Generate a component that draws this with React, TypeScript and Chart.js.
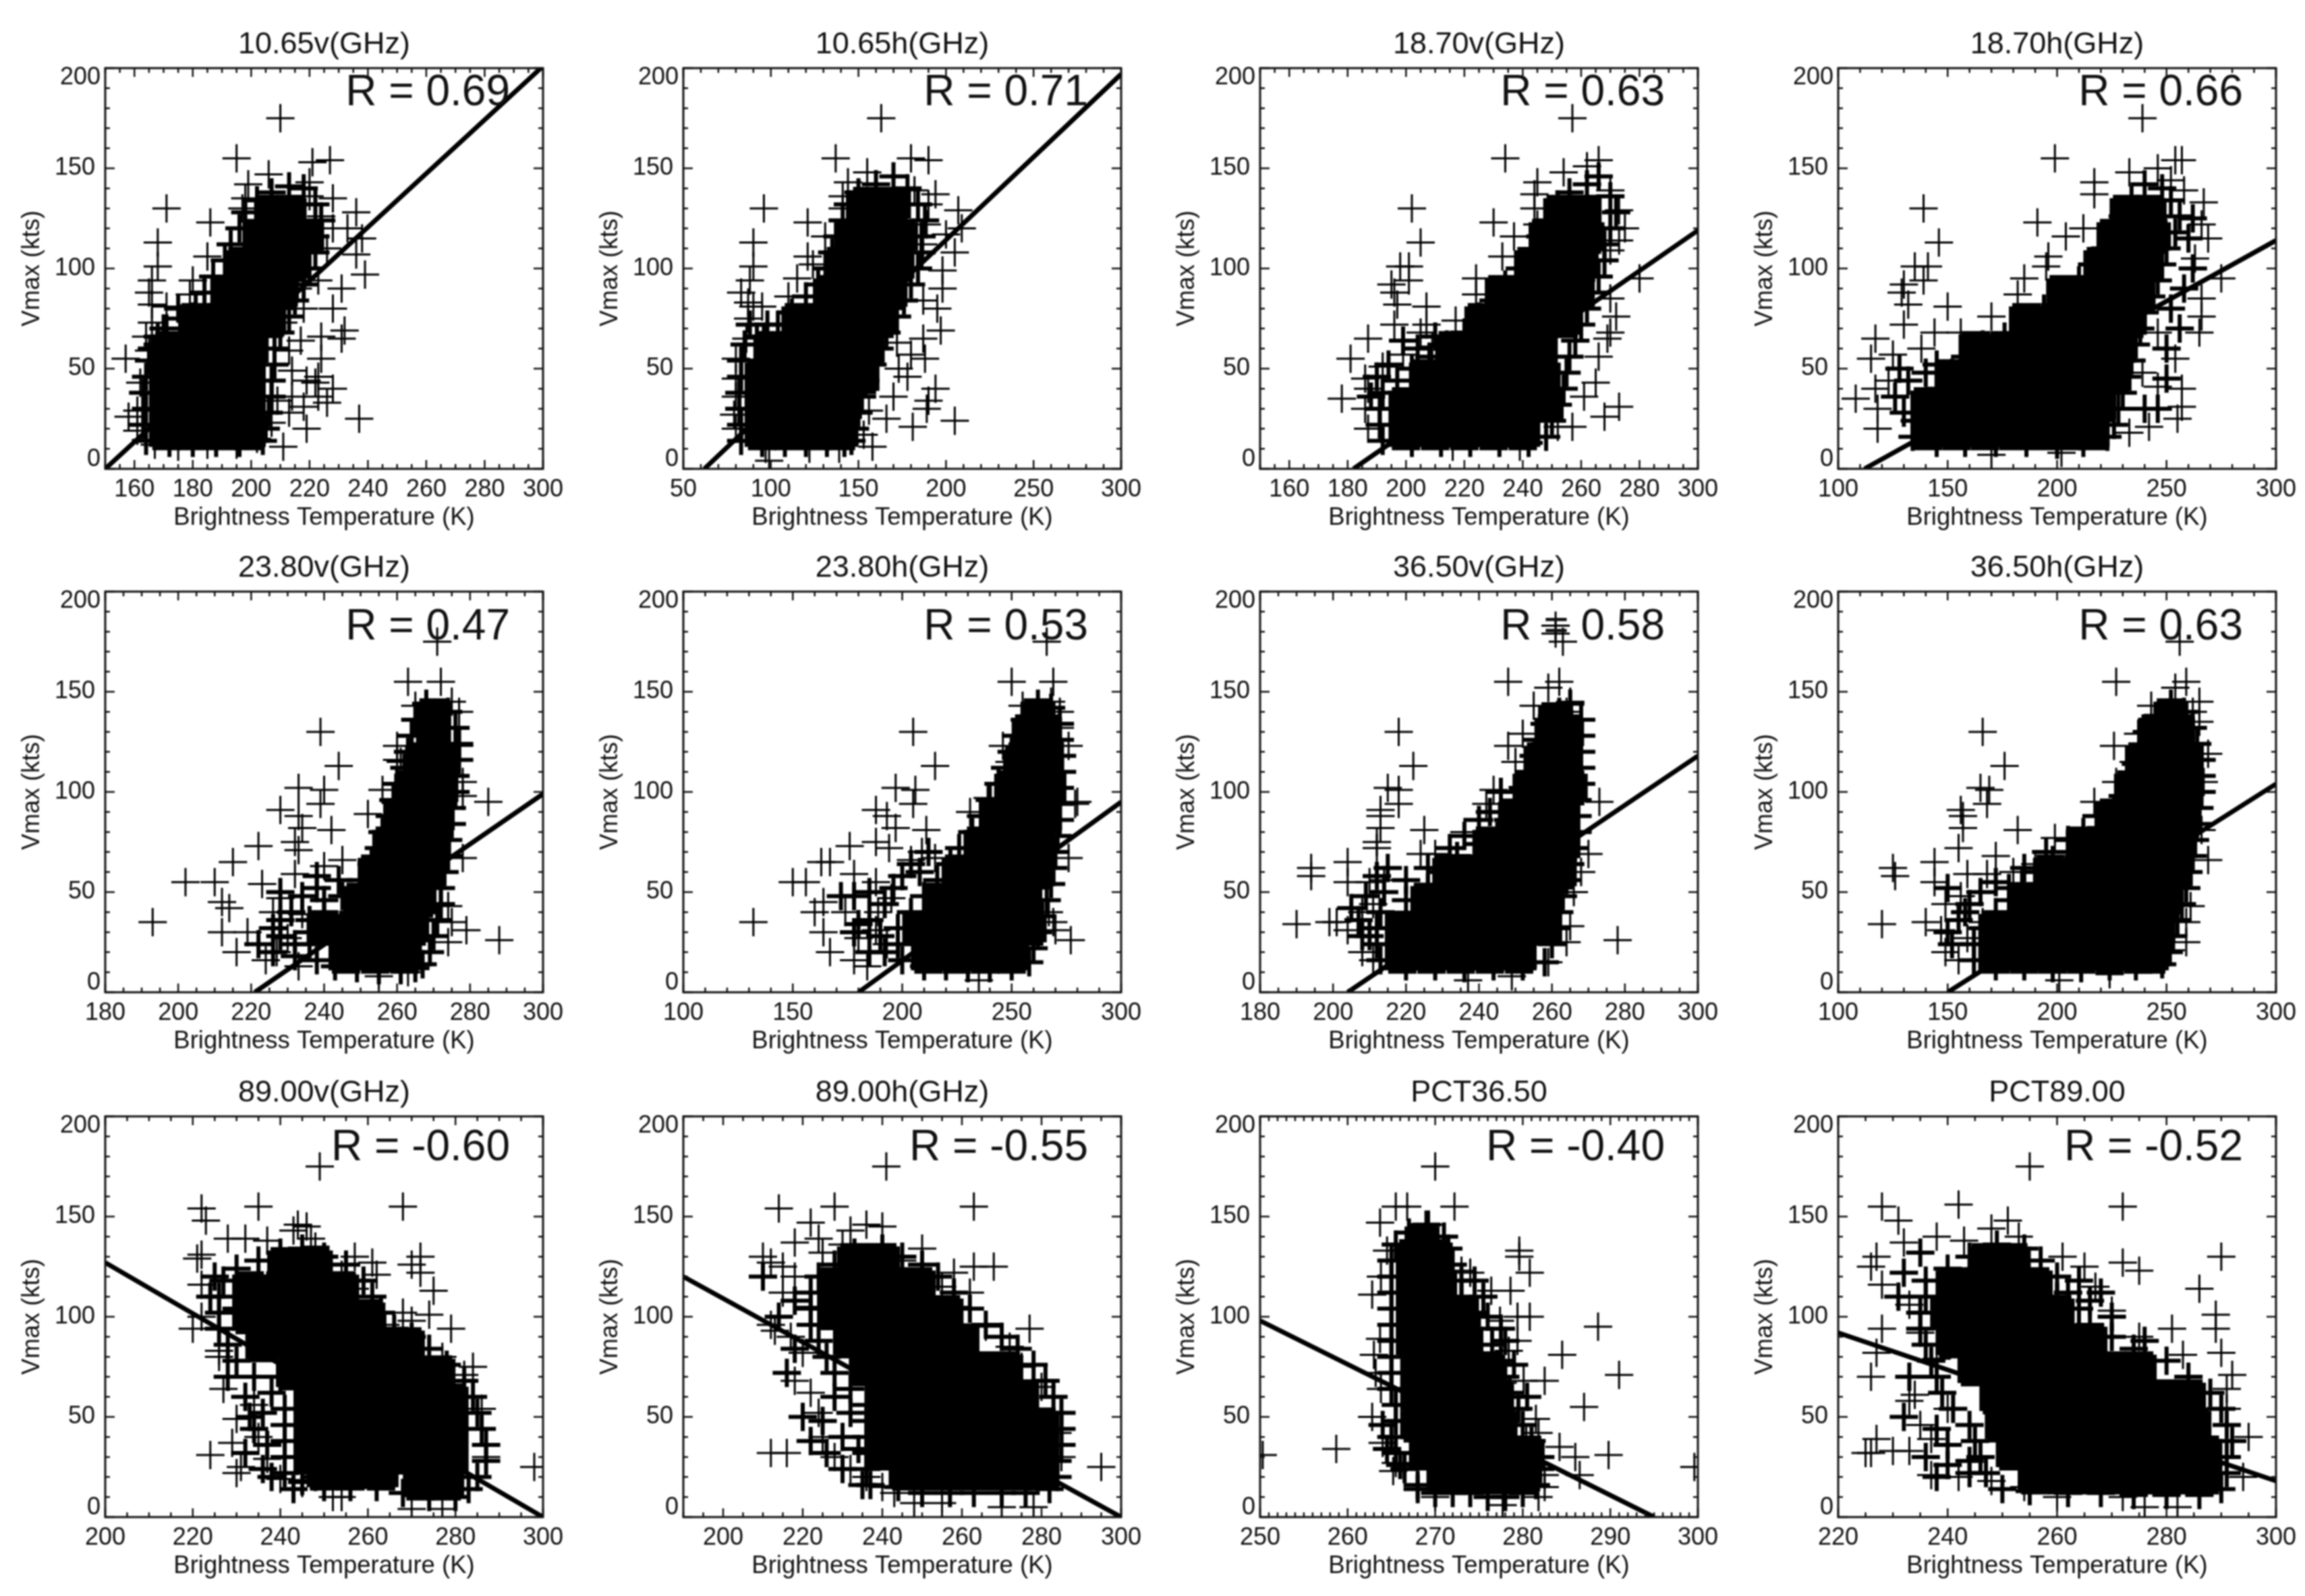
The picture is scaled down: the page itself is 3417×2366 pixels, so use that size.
import React, { useEffect, useRef } from "react";
import { Chart, registerables } from "chart.js";

Chart.register(...registerables);

const titles = ["10.65v(GHz)","10.65h(GHz)","18.70v(GHz)","18.70h(GHz)","23.80v(GHz)","23.80h(GHz)","36.50v(GHz)","36.50h(GHz)","89.00v(GHz)","89.00h(GHz)","PCT36.50","PCT89.00"];
const rLabels = ["R = 0.69","R = 0.71","R = 0.63","R = 0.66","R = 0.47","R = 0.53","R = 0.58","R = 0.63","R = -0.60","R = -0.55","R = -0.40","R = -0.52"];
const xMins = [150,50,150,100,180,100,180,100,200,190,250,220];
const xTicksA = [160,180,200,220,240,260,280,300];
const xTicksB = [50,100,150,200,250,300];
const xTicksC = [100,150,200,250,300];
const xTicksD = [180,200,220,240,260,280,300];
const xTicksE = [200,220,240,260,280,300];
const xTicksF = [250,260,270,280,290,300];
const xTicksG = [220,240,260,280,300];
const xTicks = [xTicksA,xTicksB,xTicksA,xTicksC,xTicksD,xTicksC,xTicksD,xTicksC,xTicksE,xTicksE,xTicksF,xTicksG];
const xMinorSteps = [5,10,5,10,5,10,5,10,5,5,1,5];
const yTicks = [0,50,100,150,200];
const fitLines = [
  [[150,0],[300,201]],[[62,0],[300,197]],[[182,0],[300,119]],[[112,0],[300,114]],
  [[221,0],[300,99]],[[180,0],[300,95]],[[204,0],[300,118]],[[150,0],[300,104]],
  [[200,127],[300,0]],[[190,120],[300,0]],[[250,98],[295,0]],[[220,92],[300,18]],
];

const core1 = [[171,18],[180,18],[190,18],[199,18],[171,32],[180,32],[190,32],[199,32],[171,46],[180,46],[190,46],[199,46],[172,60],[182,60],[192,60],[200,60],[181,74],[190,74],[200,74],[206,74],[192,88],[202,88],[210,88],[197,102],[207,102],[214,102],[203,116],[213,116],[219,116],[207,128],[213,128]];
const halo1 = [[164,14],[163,22],[164,30],[163,38],[164,46],[165,54],[166,60],[168,66],[171,70],[176,75],[181,80],[184,88],[187,96],[191,104],[193,112],[196,120],[198,128],[202,134],[207,138],[213,141],[218,140],[222,132],[224,124],[222,116],[222,108],[220,100],[218,92],[215,84],[213,76],[210,68],[208,60],[208,52],[207,44],[207,36],[206,28],[205,20],[204,14],[172,13],[180,13],[188,13],[196,13],[170,70],[168,62],[175,80],[180,76]];
const plus1 = [[210,175],[195,155],[221,153],[227,154],[206,147],[199,142],[171,130],[186,123],[168,113],[168,101],[166,94],[165,88],[166,82],[171,81],[185,106],[180,94],[179,87],[198,135],[197,130],[228,135],[236,128],[233,120],[238,115],[236,107],[239,97],[231,90],[228,80],[232,69],[231,65],[224,55],[223,46],[228,40],[226,33],[237,25],[219,20],[211,11],[157,55],[158,26],[222,43],[219,44],[214,36],[209,34],[213,28],[218,31],[223,36],[207,23],[202,15],[217,64],[224,66],[218,80],[223,94],[226,110],[228,120],[224,126],[220,143],[213,133],[220,136],[162,43],[161,29],[161,19],[165,59],[164,66],[166,73],[175,11],[185,12],[195,12],[167,12],[213,59],[214,49],[211,73],[216,90]];
const core2 = [[95,18],[110,18],[126,18],[140,18],[95,32],[110,32],[126,32],[142,32],[95,46],[110,46],[126,46],[142,46],[152,46],[100,60],[115,60],[130,60],[146,60],[155,60],[116,74],[132,74],[148,74],[162,74],[134,88],[150,88],[168,88],[140,102],[155,102],[172,102],[146,116],[160,116],[174,116],[155,132],[170,132]];
const halo2 = [[83,14],[83,22],[82,30],[82,38],[83,46],[83,54],[85,62],[96,66],[104,72],[112,78],[120,86],[127,92],[132,100],[135,108],[138,116],[141,124],[144,132],[150,138],[160,142],[170,146],[178,140],[184,132],[188,124],[186,116],[186,108],[184,100],[180,92],[176,84],[172,76],[166,68],[162,60],[158,52],[154,44],[152,36],[150,28],[148,20],[146,14],[95,13],[108,13],[120,13],[132,13],[142,13],[88,72],[92,66],[98,72]];
const plus2 = [[163,175],[137,155],[180,155],[190,154],[155,148],[96,130],[121,123],[90,113],[90,101],[88,94],[205,24],[158,11],[80,55],[80,45],[80,36],[79,27],[80,20],[87,75],[86,65],[87,83],[83,88],[90,81],[95,81],[121,106],[124,102],[115,95],[110,86],[131,116],[144,143],[141,136],[141,130],[207,129],[209,120],[200,117],[205,108],[198,99],[198,90],[187,84],[195,80],[197,69],[187,65],[188,55],[178,46],[194,40],[190,34],[189,30],[181,21],[170,36],[166,25],[156,29],[153,17],[173,50],[172,63],[180,57],[194,137],[190,132],[182,139],[189,122],[187,112],[99,4],[97,10],[122,10],[139,10]];
const core3 = [[200,18],[210,18],[220,18],[230,18],[240,18],[200,32],[210,32],[220,32],[230,32],[240,32],[248,32],[207,46],[217,46],[227,46],[237,46],[247,46],[216,60],[226,60],[236,60],[246,60],[226,74],[236,74],[246,74],[254,74],[233,88],[243,88],[253,88],[258,88],[243,102],[252,102],[260,102],[248,116],[256,116],[262,116],[253,128],[261,128]];
const halo3 = [[192,14],[191,22],[191,30],[192,38],[197,44],[202,50],[208,56],[214,62],[220,68],[225,76],[230,84],[234,92],[239,100],[243,108],[246,116],[249,124],[252,132],[256,138],[262,142],[266,146],[270,136],[272,128],[270,120],[268,112],[268,104],[266,96],[264,88],[262,80],[260,72],[258,64],[256,56],[255,48],[254,40],[252,32],[250,24],[248,16],[202,13],[212,13],[222,13],[232,13],[242,13],[190,46],[194,52],[188,36],[199,64],[204,60],[210,66]];
const plus3 = [[257,175],[234,155],[266,154],[254,148],[262,151],[245,143],[244,137],[202,130],[230,123],[205,113],[201,101],[198,101],[201,94],[195,92],[196,88],[197,82],[207,81],[196,72],[187,65],[207,72],[181,55],[178,35],[186,30],[187,20],[187,40],[186,45],[224,95],[224,87],[233,106],[237,116],[244,130],[245,122],[254,121],[273,129],[275,120],[273,114],[270,109],[280,95],[270,85],[272,76],[270,68],[269,65],[266,56],[265,43],[261,36],[273,31],[268,26],[257,21],[252,21],[239,11],[216,11],[205,68],[209,61],[199,57],[192,51],[217,74],[270,139]];
const core4 = [[141,18],[154,18],[167,18],[180,18],[193,18],[206,18],[216,18],[141,32],[154,32],[167,32],[180,32],[193,32],[206,32],[219,32],[152,46],[165,46],[178,46],[191,46],[204,46],[217,46],[226,46],[163,60],[176,60],[189,60],[202,60],[215,60],[228,60],[186,74],[199,74],[212,74],[225,74],[233,74],[203,88],[216,88],[229,88],[237,88],[220,102],[233,102],[240,102],[226,116],[236,116],[244,116],[232,128],[242,128]];
const halo4 = [[134,16],[135,24],[140,32],[146,40],[152,48],[158,56],[166,62],[176,66],[186,72],[194,80],[202,86],[210,94],[216,102],[222,110],[226,118],[230,126],[234,134],[240,142],[248,140],[252,134],[256,126],[254,118],[250,110],[248,102],[246,94],[243,86],[240,78],[238,70],[236,62],[234,54],[232,46],[230,38],[228,30],[226,22],[223,16],[145,13],[158,13],[172,13],[186,13],[200,12],[212,13],[128,50],[132,44],[126,36],[130,28],[140,48],[145,52],[250,60],[252,80],[258,90],[256,70],[262,100],[260,115],[262,125],[250,45],[246,30],[240,30]];
const plus4 = [[239,175],[199,155],[254,154],[257,154],[233,148],[246,150],[217,143],[217,137],[139,130],[191,123],[146,113],[135,101],[141,101],[139,94],[130,92],[129,88],[132,82],[150,81],[130,72],[144,68],[117,65],[115,55],[108,35],[118,30],[118,20],[117,40],[125,57],[138,60],[123,44],[156,68],[170,76],[185,95],[182,87],[196,106],[195,101],[204,116],[212,120],[267,133],[266,122],[269,115],[263,105],[275,95],[266,85],[266,76],[265,68],[254,55],[257,40],[257,31],[255,25],[242,21],[233,18],[202,8],[170,7],[246,68],[246,41],[239,48],[258,139],[252,144]];
const core5 = [[246,18],[254,18],[262,18],[240,32],[248,32],[256,32],[264,32],[250,46],[258,46],[266,46],[254,60],[262,60],[268,60],[258,74],[264,74],[270,74],[261,88],[267,88],[271,88],[264,102],[270,102],[272,102],[267,116],[272,116],[270,130],[270,138]];
const halo5 = [[238,16],[236,24],[236,30],[240,40],[245,48],[250,56],[253,64],[255,72],[256,80],[258,88],[259,96],[260,104],[262,112],[263,120],[264,128],[265,136],[268,144],[274,140],[276,132],[277,124],[277,116],[276,108],[276,100],[275,92],[275,84],[274,76],[274,68],[273,60],[272,52],[272,44],[271,36],[270,28],[269,20],[267,14],[243,13],[249,12],[255,11],[261,11],[265,12],[226,20],[228,28],[232,24],[236,36],[231,40],[228,36],[234,48],[238,52],[228,50],[240,46],[244,56],[226,32],[222,24],[232,18],[238,58]];
const plus5 = [[271,175],[263,155],[272,155],[265,143],[275,145],[277,140],[239,130],[277,123],[260,123],[261,115],[244,113],[233,102],[240,101],[239,94],[285,95],[228,91],[233,88],[234,82],[242,81],[222,73],[232,75],[233,71],[215,65],[210,55],[202,55],[193,35],[212,45],[214,42],[212,30],[216,20],[219,30],[223,54],[226,40],[224,16],[232,59],[240,63],[245,66],[252,89],[256,101],[260,116],[279,31],[288,26],[274,25],[275,35],[274,43],[278,67],[278,98],[278,105],[228,47],[234,39],[230,27],[227,20],[233,13],[263,10],[255,8]];
const core6 = [[212,18],[225,18],[238,18],[250,18],[208,32],[221,32],[234,32],[247,32],[258,32],[217,46],[230,46],[243,46],[256,46],[226,60],[239,60],[252,60],[262,60],[236,74],[249,74],[262,74],[243,88],[255,88],[265,88],[250,102],[262,102],[267,102],[255,116],[265,116],[258,130],[265,130],[262,138]];
const halo6 = [[200,16],[198,24],[198,32],[204,40],[210,48],[216,56],[222,64],[226,72],[232,80],[236,88],[240,96],[244,104],[247,112],[250,120],[252,128],[256,136],[262,144],[268,142],[272,134],[272,126],[273,118],[273,110],[272,102],[272,94],[272,86],[271,78],[270,70],[269,62],[268,54],[266,46],[264,38],[262,30],[260,22],[258,15],[210,13],[220,13],[230,12],[240,12],[250,13],[185,20],[190,28],[185,36],[192,44],[180,34],[196,52],[185,50],[200,58],[208,60],[178,48],[192,20],[204,64],[212,70],[172,48],[178,30]];
const plus6 = [[266,175],[250,155],[269,155],[255,143],[268,145],[272,140],[272,132],[205,130],[246,123],[249,115],[215,113],[197,102],[206,101],[205,94],[280,95],[188,91],[193,88],[197,82],[211,81],[176,73],[188,75],[194,72],[163,65],[167,65],[150,55],[156,55],[132,35],[164,45],[160,40],[164,30],[167,20],[174,40],[178,59],[188,55],[195,47],[204,66],[209,70],[215,67],[231,90],[239,97],[180,27],[178,16],[184,13],[193,24],[188,31],[189,40],[270,31],[277,26],[269,35],[267,40],[276,67],[279,94],[276,123],[235,6]];
const core7 = [[219,18],[227,18],[235,18],[243,18],[251,18],[219,32],[227,32],[235,32],[243,32],[251,32],[258,32],[226,46],[234,46],[242,46],[250,46],[258,46],[232,60],[240,60],[248,60],[256,60],[262,60],[243,74],[250,74],[258,74],[263,74],[250,88],[256,88],[263,88],[254,102],[260,102],[265,102],[257,116],[263,116],[260,130],[264,130],[261,136]];
const halo7 = [[213,16],[212,24],[212,32],[213,40],[220,46],[226,52],[230,60],[234,68],[240,74],[245,78],[248,86],[250,94],[252,102],[254,110],[255,118],[256,126],[258,134],[262,140],[265,144],[268,136],[268,128],[268,120],[268,112],[268,104],[267,96],[267,88],[267,80],[266,72],[265,64],[264,56],[263,48],[262,40],[261,32],[260,24],[258,15],[220,13],[228,13],[236,12],[244,13],[252,13],[210,28],[207,36],[209,48],[214,50],[205,42],[212,58],[220,56],[226,62],[215,62],[208,28],[232,72],[236,78],[240,86],[243,90],[246,100]];
const plus7 = [[263,175],[261,183],[261,179],[248,155],[262,155],[259,152],[255,143],[265,145],[264,140],[218,130],[248,123],[252,129],[250,115],[222,113],[215,102],[218,101],[218,94],[273,95],[213,91],[213,88],[213,82],[225,81],[212,75],[212,72],[204,65],[194,62],[194,58],[204,55],[190,34],[199,35],[201,35],[204,31],[208,20],[211,44],[208,40],[210,55],[214,56],[228,69],[224,69],[236,80],[242,94],[244,101],[270,69],[268,60],[266,50],[265,33],[264,25],[278,26],[259,15],[249,8],[237,6],[211,16]];
const core8 = [[172,18],[185,18],[198,18],[211,18],[224,18],[237,18],[243,18],[172,32],[185,32],[198,32],[211,32],[224,32],[237,32],[246,32],[186,46],[199,46],[212,46],[225,46],[238,46],[249,46],[197,60],[210,60],[223,60],[236,60],[249,60],[254,60],[212,74],[225,74],[238,74],[251,74],[256,74],[226,88],[239,88],[252,88],[258,88],[234,102],[246,102],[258,102],[239,116],[251,116],[259,116],[245,130],[255,130],[252,138]];
const halo8 = [[162,16],[162,24],[166,32],[172,40],[178,46],[184,54],[190,60],[198,66],[206,70],[214,74],[220,82],[226,90],[230,98],[234,106],[236,114],[238,122],[241,130],[246,138],[252,144],[258,140],[262,132],[264,124],[266,116],[266,108],[266,100],[265,92],[264,84],[263,76],[262,68],[260,60],[259,52],[257,44],[255,36],[253,28],[251,20],[248,14],[172,13],[185,13],[198,12],[211,12],[224,13],[236,13],[150,30],[155,36],[160,44],[150,52],[158,40],[152,24],[165,50],[172,55],[178,52],[185,62],[195,70],[205,76],[212,80],[218,88]];
const plus8 = [[256,175],[227,155],[259,155],[254,152],[243,143],[265,145],[262,140],[166,130],[226,123],[237,129],[235,115],[176,113],[165,102],[169,101],[168,94],[156,91],[157,88],[157,82],[182,81],[155,72],[172,68],[144,65],[125,62],[126,58],[144,55],[120,34],[140,35],[147,31],[149,20],[155,16],[149,44],[156,48],[159,59],[168,59],[180,60],[190,64],[199,77],[217,95],[227,105],[269,66],[266,81],[267,105],[269,119],[265,135],[261,43],[259,35],[259,25],[252,21],[224,9],[201,6],[159,27],[166,35]];
const core9 = [[250,22],[256,22],[263,22],[272,17],[278,17],[247,30],[253,30],[260,30],[266,30],[273,30],[279,30],[247,44],[253,44],[260,44],[266,44],[273,44],[279,44],[247,58],[253,58],[260,58],[266,58],[273,58],[279,58],[243,72],[250,72],[256,72],[263,72],[269,72],[276,72],[236,86],[243,86],[250,86],[256,86],[263,86],[269,86],[233,100],[240,100],[247,100],[254,100],[260,100],[233,114],[240,114],[247,114],[254,114],[241,126],[248,126]];
const halo9 = [[241,22],[241,30],[241,38],[241,46],[241,54],[238,62],[234,70],[230,78],[228,86],[226,94],[226,102],[226,110],[227,118],[230,124],[235,128],[240,132],[245,134],[250,130],[255,126],[259,118],[261,110],[263,102],[266,94],[270,90],[274,84],[278,76],[282,68],[284,60],[285,52],[286,44],[287,36],[287,28],[285,20],[283,14],[245,18],[250,15],[256,15],[262,15],[268,12],[274,10],[280,10],[232,60],[236,52],[234,44],[237,36],[232,32],[236,24],[233,50],[240,70],[228,70],[230,104],[225,120],[224,110],[248,20],[243,14],[238,20]];
const plus9 = [[249,175],[222,154],[235,155],[268,155],[223,148],[244,146],[246,145],[243,143],[228,139],[232,139],[237,138],[247,139],[248,135],[222,131],[221,129],[257,130],[261,127],[272,130],[270,126],[272,122],[262,121],[275,113],[222,116],[268,102],[274,101],[270,98],[279,94],[220,94],[222,100],[226,83],[226,80],[227,64],[230,49],[229,37],[224,31],[231,25],[230,22],[235,40],[234,56],[237,29],[240,19],[245,17],[284,75],[282,71],[277,80],[286,54],[287,30],[298,25],[270,4],[277,4],[252,10],[254,10],[264,96],[257,114],[254,121]];
const core10 = [[246,22],[253,22],[260,22],[267,22],[274,22],[280,22],[240,32],[247,32],[254,32],[261,32],[268,32],[275,32],[280,32],[240,46],[247,46],[254,46],[261,46],[268,46],[275,46],[280,46],[240,60],[247,60],[254,60],[261,60],[268,60],[275,60],[236,74],[243,74],[250,74],[257,74],[264,74],[271,74],[232,88],[239,88],[246,88],[253,88],[260,88],[228,102],[235,102],[242,102],[249,102],[256,102],[228,116],[235,116],[242,116],[249,116],[233,128],[240,128]];
const halo10 = [[237,16],[236,24],[236,32],[236,40],[236,48],[236,56],[232,64],[228,72],[226,80],[224,88],[222,96],[222,104],[222,112],[224,120],[228,126],[233,132],[240,134],[245,130],[250,126],[254,120],[258,112],[262,104],[266,96],[270,90],[274,84],[278,76],[281,68],[283,60],[285,52],[285,44],[285,36],[284,28],[284,20],[282,14],[244,15],[250,12],[257,12],[263,12],[270,12],[276,12],[228,60],[232,52],[225,48],[230,40],[234,34],[226,32],[230,24],[235,16],[220,50],[222,38],[216,72],[218,84],[214,100],[218,108],[210,120]];
const plus10 = [[241,175],[214,154],[228,155],[263,155],[222,147],[236,146],[240,145],[232,143],[218,137],[224,139],[210,130],[212,127],[250,134],[263,125],[268,125],[258,122],[277,94],[213,93],[217,90],[212,96],[212,32],[216,32],[218,68],[295,25],[284,42],[285,30],[283,52],[280,65],[275,75],[272,85],[266,95],[258,105],[255,115],[250,120],[218,120],[215,112],[222,105],[220,82],[222,62],[224,52],[225,40],[228,30],[232,24],[236,20],[240,15],[243,12],[248,7],[255,7],[270,5],[278,5],[215,125],[225,132],[230,136],[245,128],[247,112],[262,112]];
const core11 = [[271,20],[274.2,20],[277.4,20],[280,20],[269,32],[272,32],[275.2,32],[278.4,32],[280.5,32],[268,46],[271,46],[274.2,46],[277.4,46],[268,60],[271,60],[274,60],[277,60],[268,74],[271,74],[274,74],[276,74],[267.5,88],[270.5,88],[273.5,88],[267.5,102],[270.5,102],[273,102],[267.5,116],[270.5,116],[267.5,130],[270,130],[268.5,138]];
const halo11 = [[270,12],[268,16],[266.5,24],[265.5,32],[265,40],[265.5,48],[265.5,56],[265,64],[265,72],[265,80],[265,88],[265,96],[265,104],[265,112],[265,120],[265,128],[265.5,136],[267,142],[269,146],[271,140],[271.5,134],[272,126],[273,118],[273,110],[274.5,102],[275,94],[276.5,86],[277.5,78],[278,70],[278.5,62],[279.5,54],[280,46],[281,38],[282,30],[282,24],[281.5,16],[280,12],[272,12],[274,12],[276,10],[278,10],[274.5,118],[275.5,110],[276,100],[277.5,94],[278,88],[279,76],[280.5,60],[264,46],[266,26],[264.5,34],[268,14]];
const plus11 = [[270,175],[265.5,155],[266.8,155],[272.2,155],[263.7,147],[269.3,146],[264.5,133],[279.6,133],[279.6,130],[280.8,122],[274,122],[273,123],[263.8,120],[262.8,111],[276.4,113],[278.6,113],[279.4,100],[280.8,100],[277.4,98],[288.6,95],[263.7,89],[263,81],[279.4,88],[284.5,81],[278.4,83],[291,71],[280.1,68],[282.5,68],[263.2,72],[263.8,64],[277.7,67],[287,55],[262.8,50],[281.5,49],[264,37],[258.7,34],[284.2,35],[286,30],[289.8,31],[250.3,31],[265.2,23],[286.5,21],[299.6,25],[282.5,21],[282.5,15],[281.8,10],[277.7,6],[270,10],[265.5,27],[280.4,38],[279,46],[281.8,42]];
const core12 = [[256,20],[261,20],[266,20],[272,20],[277,20],[282,20],[287,20],[252,32],[257,32],[262,32],[267,32],[272,32],[277,32],[282,32],[287,32],[250,46],[255,46],[260,46],[265,46],[270,46],[275,46],[280,46],[285,46],[249,60],[254,60],[259,60],[264,60],[269,60],[274,60],[279,60],[284,60],[245,74],[250,74],[255,74],[260,74],[265,74],[270,74],[275,74],[241,88],[246,88],[251,88],[256,88],[261,88],[266,88],[240,102],[245,102],[250,102],[255,102],[260,102],[241,116],[246,116],[251,116],[256,116],[247,128],[252,128]];
const halo12 = [[250,14],[247,22],[246,30],[245,38],[244,46],[241,54],[239,62],[238,70],[237,78],[236,86],[235,94],[235,102],[236,110],[236,118],[240,124],[244,130],[249,136],[254,134],[257,128],[260,120],[262,112],[264,104],[266,96],[270,90],[274,84],[280,78],[284,70],[288,62],[290,54],[291,46],[292,38],[291,30],[291,22],[290,14],[255,13],[262,12],[268,12],[274,11],[280,11],[286,11],[240,36],[244,28],[238,44],[240,26],[236,30],[238,20],[232,50],[233,70],[231,110],[232,122],[235,132],[260,110],[266,108],[270,100],[276,88],[264,118],[268,112],[244,22]];
const plus12 = [[255,175],[228,155],[242,156],[272,155],[231,148],[248,144],[251,148],[232,137],[238,140],[243,138],[253,140],[227,130],[261,130],[272,127],[275,123],[290,130],[226,125],[265,125],[267,115],[228,116],[286,114],[233,106],[270,103],[289,101],[289,94],[281,94],[228,94],[235,92],[227,82],[226,70],[275,90],[283,81],[290,82],[292,71],[291,64],[234,61],[233,58],[235,46],[291,54],[295,40],[227,39],[225,32],[226,32],[230,33],[233,33],[237,21],[242,20],[248,18],[254,15],[294,20],[276,5],[282,5],[260,10],[272,10],[237,39],[240,54],[238,79]];

const coreSets = [core1,core2,core3,core4,core5,core6,core7,core8,core9,core10,core11,core12];
const haloSets = [halo1,halo2,halo3,halo4,halo5,halo6,halo7,halo8,halo9,halo10,halo11,halo12];
const plusSets = [plus1,plus2,plus3,plus4,plus5,plus6,plus7,plus8,plus9,plus10,plus11,plus12];

const plotLefts = [156,1013,1868,2725];
const plotTops = [101,877,1655];
const PLOT_W = 649, PLOT_H = 594, AXIS_W = 156, TITLE_H = 101, XAXIS_H = 105, RIGHT_PAD = 68;
const FONT = '"Liberation Sans", Arial, sans-serif';
const INK = "#111";
const rBaseline = [55, 71, 65];

function Panel({ index }: { index: number }) {
  const ref = useRef<HTMLCanvasElement>(null);
  const row = Math.floor(index / 4);
  const col = index % 4;
  useEffect(() => {
    const toPts = (a: number[][]) => a.map(([x, y]) => ({ x, y }));
    const frame = {
      id: "idlFrame",
      afterDatasetsDraw(chart: any) {
        const { ctx, chartArea: a, scales } = chart;
        const xs = scales.x, ys = scales.y;
        ctx.save();
        ctx.strokeStyle = INK;
        ctx.lineWidth = 3;
        ctx.strokeRect(a.left, a.top, a.right - a.left, a.bottom - a.top);
        ctx.lineWidth = 2.5;
        ctx.beginPath();
        const step = xMinorSteps[index];
        for (let v = xMins[index]; v <= 300; v += step) {
          const major = xTicks[index].includes(v);
          const len = major ? 13 : 7;
          const p = xs.getPixelForValue(v);
          ctx.moveTo(p, a.bottom); ctx.lineTo(p, a.bottom - len);
          ctx.moveTo(p, a.top); ctx.lineTo(p, a.top + len);
        }
        for (let v = 0; v <= 200; v += 10) {
          const len = v % 50 === 0 ? 14 : 7;
          const p = ys.getPixelForValue(v);
          ctx.moveTo(a.left, p); ctx.lineTo(a.left + len, p);
          ctx.moveTo(a.right, p); ctx.lineTo(a.right - len, p);
        }
        ctx.stroke();
        ctx.fillStyle = INK;
        ctx.font = `36px ${FONT}`;
        ctx.textAlign = "right";
        ctx.textBaseline = "middle";
        ctx.fillText("200", a.left - 7, ys.getPixelForValue(200) + 14);
        ctx.fillText("0", a.left - 7, ys.getPixelForValue(0) - 14);
        ctx.font = `64px ${FONT}`;
        ctx.textBaseline = "alphabetic";
        ctx.fillText(rLabels[index], a.right - 49, a.top + rBaseline[row]);
        ctx.restore();
      },
    };
    const chart = new Chart(ref.current as HTMLCanvasElement, {
      type: "scatter",
      data: {
        datasets: [
          { data: toPts(coreSets[index]), pointStyle: "cross", pointRadius: 26, pointBorderWidth: 42, borderColor: "#000", backgroundColor: "#000", showLine: false },
          { data: toPts(haloSets[index]), pointStyle: "cross", pointRadius: 21, pointBorderWidth: 6, borderColor: "#000", backgroundColor: "#000", showLine: false },
          { data: toPts(plusSets[index]), pointStyle: "cross", pointRadius: 21, pointBorderWidth: 3, borderColor: "#000", backgroundColor: "#000", showLine: false },
          { data: toPts(fitLines[index]), showLine: true, pointRadius: 0, borderWidth: 7, borderColor: "#000", backgroundColor: "#000" },
        ],
      } as any,
      plugins: [frame],
      options: {
        animation: false,
        responsive: false,
        events: [],
        layout: { padding: 0 },
        plugins: {
          legend: { display: false },
          tooltip: { enabled: false },
          title: {
            display: true, text: titles[index], fullSize: false, color: INK,
            font: { family: FONT, size: 45, weight: "normal", lineHeight: 1 },
            padding: { top: 44, bottom: 12 },
          },
        },
        scales: {
          x: {
            type: "linear", min: xMins[index], max: 300,
            afterBuildTicks: (s: any) => { s.ticks = xTicks[index].map((value) => ({ value })); },
            afterFit: (s: any) => { s.height = XAXIS_H; s.paddingLeft = 0; s.paddingRight = 0; },
            grid: { display: false }, border: { display: false },
            ticks: { autoSkip: false, maxRotation: 0, minRotation: 0, padding: 1, color: INK, font: { family: FONT, size: 36 }, callback: (v: any) => String(v) },
            title: { display: true, text: "Brightness Temperature (K)", color: INK, font: { family: FONT, size: 36.5, weight: "normal", lineHeight: 1 }, padding: { top: 0, bottom: 14 } },
          },
          y: {
            type: "linear", min: 0, max: 200,
            afterBuildTicks: (s: any) => { s.ticks = yTicks.map((value) => ({ value })); },
            afterFit: (s: any) => { s.width = AXIS_W; },
            grid: { display: false }, border: { display: false },
            ticks: { autoSkip: false, padding: 7, color: INK, font: { family: FONT, size: 36 }, callback: (v: any) => (v === 0 || v === 200 ? "" : String(v)) },
            title: { display: true, text: "Vmax (kts)", color: INK, font: { family: FONT, size: 36, weight: "normal", lineHeight: 1 }, padding: { top: 30, bottom: 0 } },
          },
        },
      } as any,
    });
    return () => chart.destroy();
  }, [index, row]);
  return (
    <canvas
      ref={ref}
      width={AXIS_W + PLOT_W + RIGHT_PAD}
      height={TITLE_H + PLOT_H + XAXIS_H}
      style={{ position: "absolute", left: plotLefts[col] - AXIS_W, top: plotTops[row] - TITLE_H, filter: "blur(0.9px)" }}
    />
  );
}

export default function App() {
  return (
    <div style={{ position: "fixed", left: 0, top: 0, width: 3417, height: 2366, background: "#fff", overflow: "hidden" }}>
      {titles.map((_, i) => <Panel key={i} index={i} />)}
    </div>
  );
}
